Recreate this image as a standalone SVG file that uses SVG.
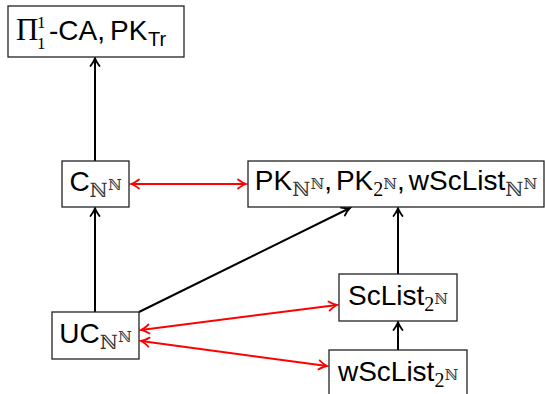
<svg xmlns="http://www.w3.org/2000/svg" width="545" height="394" viewBox="0 0 545 394">
<style>
.box{fill:#fff;stroke:#222;stroke-width:1.3}
.t{font-family:"Liberation Sans",Arial,sans-serif;font-size:28px;fill:#000}
.ser{font-family:"Liberation Serif","Times New Roman",serif}
.bb{font-family:"DejaVu Serif","DejaVu Sans",serif;fill:#333}
.sub{font-size:20px}
.sup{font-size:15px}
.s1{font-size:17px}
.blk{stroke:#000;stroke-width:2;fill:none}
.red{stroke:#f00;stroke-width:2;fill:none}
</style>
<defs>
<marker id="ah" viewBox="-10 -6 12 12" refX="0" refY="0" markerWidth="12" markerHeight="12" markerUnits="userSpaceOnUse" orient="auto-start-reverse">
<path d="M-8,-4.5 Q-3,-0.8 0,0 Q-3,0.8 -8,4.5" fill="none" stroke="#000" stroke-width="1.8" stroke-linecap="round"/>
</marker>
<marker id="ahr" viewBox="-10 -6 12 12" refX="0" refY="0" markerWidth="12" markerHeight="12" markerUnits="userSpaceOnUse" orient="auto-start-reverse">
<path d="M-8,-4.5 Q-3,-0.8 0,0 Q-3,0.8 -8,4.5" fill="none" stroke="#f00" stroke-width="1.8" stroke-linecap="round"/>
</marker>
</defs>
<g id="connectors">
<line class="blk" x1="95" y1="161" x2="95" y2="58" marker-end="url(#ah)"/>
<line class="blk" x1="95" y1="312" x2="95" y2="208" marker-end="url(#ah)"/>
<line class="blk" x1="139" y1="312" x2="350" y2="208" marker-end="url(#ah)"/>
<line class="blk" x1="398" y1="274" x2="398" y2="208" marker-end="url(#ah)"/>
<line class="blk" x1="398" y1="350" x2="398" y2="322" marker-end="url(#ah)"/>
<line class="red" x1="131" y1="184" x2="246" y2="184" marker-start="url(#ahr)" marker-end="url(#ahr)"/>
<line class="red" x1="141" y1="330" x2="337" y2="305" marker-start="url(#ahr)" marker-end="url(#ahr)"/>
<line class="red" x1="141" y1="341" x2="327" y2="366" marker-start="url(#ahr)" marker-end="url(#ahr)"/>
</g>
<g id="n_pi">
<rect class="box" x="8" y="6" width="176" height="51"/>
<text class="t ser" x="16" y="40" style="font-size:31px">Π</text>
<text class="t ser s1" x="37" y="28">1</text>
<text class="t ser s1" x="37" y="49">1</text>
<text class="t" x="49" y="40">-CA,<tspan dx="5">PK</tspan></text>
<text class="t sub" x="148" y="46">Tr</text>
</g>
<g id="n_c">
<rect class="box" x="62" y="161" width="67" height="46"/>
<text class="t" x="95.5" y="191" text-anchor="middle">C<tspan class="bb sub" dy="6">ℕ</tspan><tspan class="bb sup" dy="-7">ℕ</tspan></text>
</g>
<g id="n_pk">
<rect class="box" x="248" y="161" width="296" height="46"/>
<text class="t" x="396" y="190" text-anchor="middle">PK<tspan class="bb sub" dy="6">ℕ</tspan><tspan class="bb sup" dy="-7">ℕ</tspan><tspan dy="1">,</tspan><tspan dx="4">PK</tspan><tspan class="ser sub" dy="6">2</tspan><tspan class="bb sup" dy="-7">ℕ</tspan><tspan dy="1">,</tspan><tspan dx="4">wScList</tspan><tspan class="bb sub" dy="6">ℕ</tspan><tspan class="bb sup" dy="-7">ℕ</tspan></text>
</g>
<g id="n_uc">
<rect class="box" x="52" y="312" width="87" height="47"/>
<text class="t" x="95.5" y="343" text-anchor="middle">UC<tspan class="bb sub" dy="6">ℕ</tspan><tspan class="bb sup" dy="-7">ℕ</tspan></text>
</g>
<g id="n_sclist">
<rect class="box" x="339" y="274" width="118" height="47"/>
<text class="t" x="398" y="305" text-anchor="middle">ScList<tspan class="ser sub" dy="6">2</tspan><tspan class="bb sup" dy="-7">ℕ</tspan></text>
</g>
<g id="n_wsclist">
<rect class="box" x="329" y="350" width="138" height="50"/>
<text class="t" x="398" y="381" text-anchor="middle">wScList<tspan class="ser sub" dy="6">2</tspan><tspan class="bb sup" dy="-7">ℕ</tspan></text>
</g>
</svg>
